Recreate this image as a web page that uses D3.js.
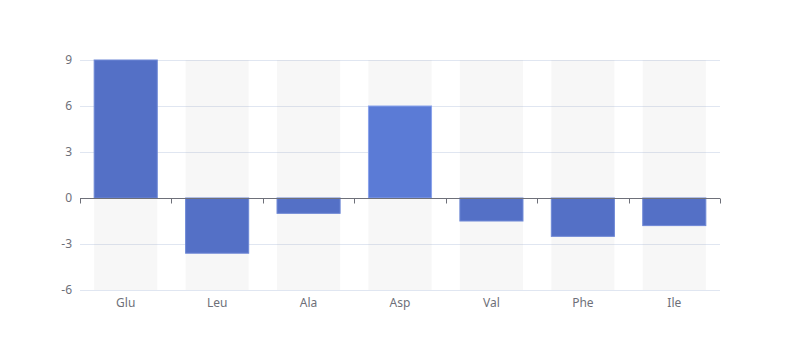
<!DOCTYPE html>
<html>
<head>
    <meta charset="UTF-8">
    <title>Amino acid bars</title>
    <style>
        body { margin: 0; background: #fff; font-family: "Microsoft YaHei", "Noto Sans", sans-serif; }
        text { fill: #6e7079; font-size: 12px; }
    </style>
    <script src="https://d3js.org/d3.v7.min.js"></script>
</head>
<body>
    <div id="chart"></div>
    <script>
        var categories = ["Glu", "Leu", "Ala", "Asp", "Val", "Phe", "Ile"];
        var values = [9, -3.6, -1, 6, -1.5, -2.5, -1.8];
        var yTicks = [-6, -3, 0, 3, 6, 9];
        var highlighted = "Asp";

        var margin = {top: 60, right: 80, bottom: 70, left: 80},
            width = 800 - margin.left - margin.right,
            height = 360 - margin.top - margin.bottom;

        var x = d3.scaleBand().domain(categories).range([0, width]).paddingInner(0).paddingOuter(0);
        var y = d3.scaleLinear().domain([-6, 9]).range([height, 0]);
        var barW = x.bandwidth() * 0.69;

        var svg = d3.select("#chart").append("svg")
            .attr("width", 800)
            .attr("height", 360)
            .append("g")
            .attr("transform", "translate(" + margin.left + "," + margin.top + ")");

        // grid lines
        svg.selectAll(".grid")
            .data(yTicks.filter(function(d) { return d !== 0; }))
            .enter().append("line")
            .attr("x1", 0).attr("x2", width)
            .attr("y1", function(d) { return Math.round(y(d)) + 0.5; })
            .attr("y2", function(d) { return Math.round(y(d)) + 0.5; })
            .attr("stroke", "#e0e6f1");

        // background bars
        svg.selectAll(".bg")
            .data(categories)
            .enter().append("rect")
            .attr("x", function(d) { return x(d) + (x.bandwidth() - barW) / 2; })
            .attr("y", 0)
            .attr("width", barW)
            .attr("height", height)
            .attr("fill", "rgba(180,180,180,0.1)");

        // bars
        svg.selectAll(".bar")
            .data(values)
            .enter().append("rect")
            .attr("x", function(d, i) { return x(categories[i]) + (x.bandwidth() - barW) / 2; })
            .attr("y", function(d) { return y(Math.max(0, d)); })
            .attr("width", barW)
            .attr("height", function(d) { return Math.abs(y(d) - y(0)); })
            .attr("fill", function(d, i) { return categories[i] === highlighted ? "#5b7bd6" : "#5470c6"; })
            .attr("stroke", function(d, i) { return categories[i] === highlighted ? "#8aa3ec" : "#6e88d6"; })
            .attr("stroke-width", 1);

        // y labels
        svg.selectAll(".ylab")
            .data(yTicks)
            .enter().append("text")
            .attr("x", -8)
            .attr("y", function(d) { return y(d); })
            .attr("dy", "0.35em")
            .attr("text-anchor", "end")
            .text(function(d) { return d; });

        // zero axis line
        var y0 = Math.round(y(0)) + 0.5;
        svg.append("line")
            .attr("x1", 0).attr("x2", width)
            .attr("y1", y0).attr("y2", y0)
            .attr("stroke", "#6e7079");

        var tickPos = categories.map(function(d) { return x(d); }).concat([width]);
        svg.selectAll(".tick")
            .data(tickPos)
            .enter().append("line")
            .attr("x1", function(d) { return Math.round(d) + 0.5; })
            .attr("x2", function(d) { return Math.round(d) + 0.5; })
            .attr("y1", y0).attr("y2", y0 + 5)
            .attr("stroke", "#6e7079");

        // x labels
        svg.selectAll(".xlab")
            .data(categories)
            .enter().append("text")
            .attr("x", function(d) { return x(d) + x.bandwidth() / 2; })
            .attr("y", height + 13)
            .attr("dy", "0.35em")
            .attr("text-anchor", "middle")
            .text(function(d) { return d; });
    </script>
</body>
</html>
